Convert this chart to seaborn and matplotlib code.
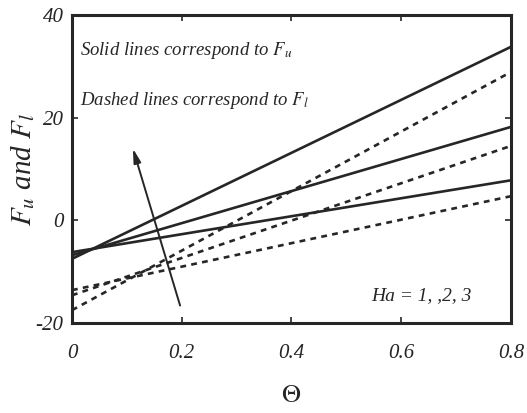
import numpy as np
import pandas as pd
import matplotlib
matplotlib.use("Agg")
import matplotlib.pyplot as plt
import seaborn as sns

# Endpoints of each curve (theta = 0 and theta = 0.8)
theta = [0.0, 0.8]
ha_labels = ["Ha = 1", "Ha = 2", "Ha = 3"]
fu_values = [[-7.5, 33.8], [-6.8, 18.2], [-6.2, 7.8]]    # solid lines
fl_values = [[-17.5, 28.9], [-14.6, 14.5], [-13.6, 4.7]]  # dashed lines

xticks = [0, 0.2, 0.4, 0.6, 0.8]
xtick_labels = ["0", "0.2", "0.4", "0.6", "0.8"]
yticks = [-20, 0, 20, 40]
ytick_labels = ["-20", "0", "20", "40"]

rows = []
for ha, fu, fl in zip(ha_labels, fu_values, fl_values):
    for t, u, l in zip(theta, fu, fl):
        rows.append({"theta": t, "F": u, "Ha": ha, "kind": "Fu"})
        rows.append({"theta": t, "F": l, "Ha": ha, "kind": "Fl"})
df = pd.DataFrame(rows)

sns.set_theme(style="ticks")
plt.rcParams["font.family"] = ["Liberation Serif", "DejaVu Serif"]
plt.rcParams["mathtext.fontset"] = "stix"

fig = plt.figure(figsize=(5.27, 4.13), dpi=100)
ax = fig.add_axes([0.1366, 0.2179, 0.8330, 0.7458])

ink = "#262626"
sns.lineplot(data=df[df["kind"] == "Fu"], x="theta", y="F", units="Ha",
             estimator=None, color=ink, lw=1.9, ax=ax, legend=False)
sns.lineplot(data=df[df["kind"] == "Fl"], x="theta", y="F", units="Ha",
             estimator=None, color=ink, lw=1.9, ax=ax, legend=False,
             dashes=False)
for line in ax.lines[3:]:
    line.set_linestyle((0, (2.2, 2.0)))

ax.set_xlim(0, 0.8)
ax.set_ylim(-20, 40)
ax.set_xticks(xticks)
ax.set_xticklabels(xtick_labels)
ax.set_yticks(yticks)
ax.set_yticklabels(ytick_labels)
ax.tick_params(direction="in", length=4, width=1.2, top=True, right=True,
               labelsize=15, color=ink, labelcolor=ink)
ax.tick_params(axis="x", pad=15)
ax.tick_params(axis="y", pad=6)
for lab in ax.get_xticklabels() + ax.get_yticklabels():
    lab.set_style("italic")
for sp in ax.spines.values():
    sp.set_linewidth(2.2)
    sp.set_color(ink)
ax.grid(False)

ax.set_xlabel(r"$\Theta$", fontsize=19, color=ink)
ax.xaxis.set_label_coords(0.5, -0.2)
ax.set_ylabel(r"$F_u$ and $F_l$", fontsize=21, style="italic", color=ink)
ax.yaxis.set_label_coords(-0.08, 0.5)

ax.text(0.015, 33, r"Solid lines correspond to $F_u$", fontsize=13.5,
        style="italic", color=ink, va="center")
ax.text(0.015, 23.4, r"Dashed lines correspond to $F_l$", fontsize=13.5,
        style="italic", color=ink, va="center")
ax.text(0.545, -14.6, "Ha = 1, ,2, 3", fontsize=14, style="italic",
        color=ink, va="center")

ax.annotate("", xy=(0.111, 14.0), xytext=(0.197, -16.6),
            arrowprops=dict(arrowstyle="-|>,head_length=0.7,head_width=0.18",
                            color=ink, lw=1.4, shrinkA=0, shrinkB=0))

fig.savefig("out.png", dpi=100, facecolor="white")
